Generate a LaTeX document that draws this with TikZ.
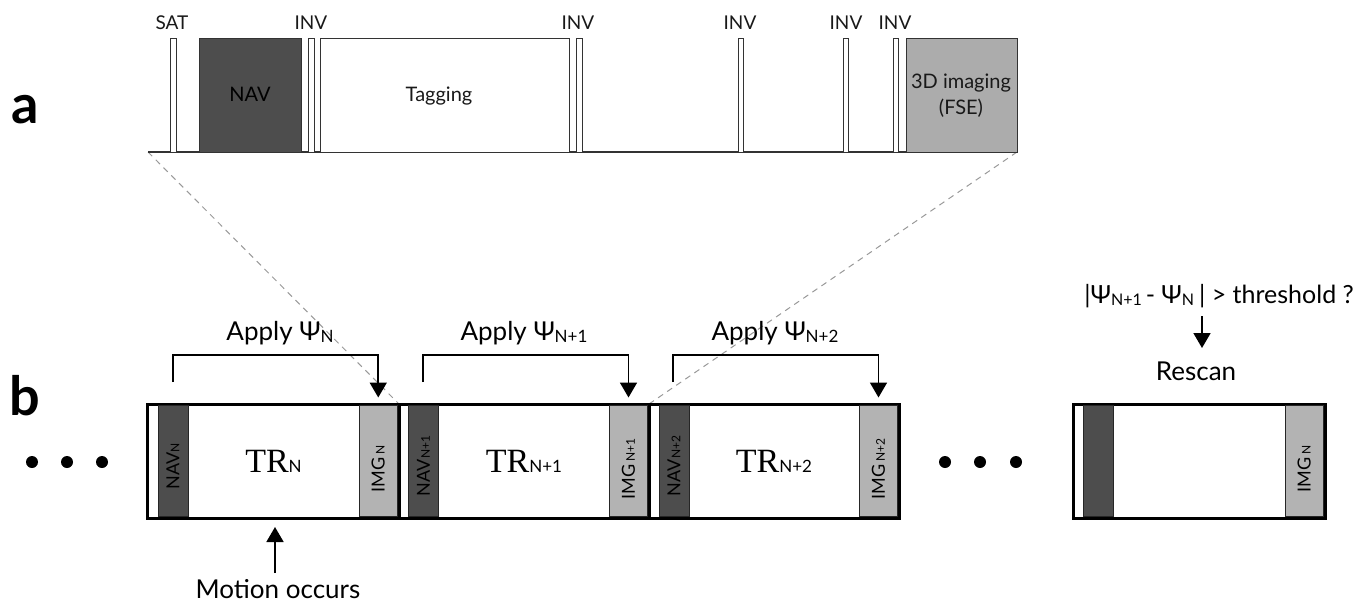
\documentclass[tikz,border=0pt]{standalone}
\usepackage{fontspec}
\setmainfont{Lato}
\newfontfamily\trfont{Liberation Serif}
\usetikzlibrary{arrows.meta,calc}
\definecolor{navc}{HTML}{4D4D4D}
\definecolor{imgc}{HTML}{B3B3B3}
\definecolor{fsec}{HTML}{ACACAC}
\definecolor{edge}{HTML}{333333}
\newcommand\fs[1]{\fontsize{#1}{#1}\selectfont}
\newcommand\Rect[7]{\node[#1, minimum width={(#5-#3)*1pt}, minimum height={(#6-#4)*1pt}] (#2) at ({(#3+#5)/2},{(#4+#6)/2}) {#7};}
\begin{document}
\begin{tikzpicture}[x=1pt,y=-1pt,
  pulse/.style={draw=edge, fill=white, line width=0.8pt, inner sep=0pt, outer sep=0pt},
  seg/.style={draw=edge, line width=1pt, inner sep=0pt, outer sep=0pt},
  trbox/.style={draw=black, fill=white, line width=3pt, inner sep=0pt, outer sep=0pt},
  navs/.style={draw=black!85, fill=navc, line width=0.8pt, inner sep=0pt, outer sep=0pt},
  imgs/.style={draw=black!85, fill=imgc, line width=0.8pt, inner sep=0pt, outer sep=0pt},
  lab/.style={inner sep=0pt, anchor=base},
  small/.style={lab, font=\fs{19}, text=black!90},
  big/.style={lab, font=\fs{26}, text=black},
  vlab/.style={inner sep=0pt, rotate=90, font=\fs{18}, text=black},
  dashline/.style={draw=black!40, line width=1pt, dash pattern=on 6pt off 5pt},
  arr/.style={line width=1.8pt, -{Triangle[width=17pt,length=15pt]}},
  dot/.style={circle, fill=black, inner sep=0pt, minimum size=12pt},
]
\useasboundingbox (0,0) rectangle (1360,603);

% ---------- panel labels ----------
\node[lab, font=\fs{54}\bfseries] (la) at (25,123) {a};
\node[lab, font=\fs{54}\bfseries] (lb) at (25,415) {b};

% ---------- part a ----------
\coordinate (aL) at (148,152);
\coordinate (aR) at (1017,152);
\draw[dashline] (aL) -- (399,404) coordinate (dEnd1);
\draw[dashline] (aR) -- (649,404) coordinate (dEnd2);
\draw[edge, line width=1.2pt] (aL) -- (aR);

\Rect{pulse}{sat}{170}{38}{176}{152}{}
\Rect{seg, fill=navc}{nav}{199}{38}{301}{152}{}
\Rect{pulse}{inv1}{308}{38}{314}{152}{}
\Rect{seg, fill=white}{tag}{320}{38}{569}{152}{}
\Rect{pulse}{inv2}{576}{38}{582}{152}{}
\Rect{pulse}{inv3}{738}{38}{743}{152}{}
\Rect{pulse}{inv4}{843}{38}{848}{152}{}
\Rect{pulse}{inv5}{893}{38}{898}{152}{}
\Rect{seg, fill=fsec}{fse}{906}{38}{1017}{152}{}

\node[small] (satl) at (172,29) {SAT};
\node[small] (inv1l) at (311,29) {INV};
\node[small] (inv2l) at (578,29) {INV};
\node[small] (inv3l) at (740,29) {INV};
\node[small] (inv4l) at (846,29) {INV};
\node[small] (inv5l) at (895,29) {INV};
\node[lab, font=\fs{20}, text=black] (navl) at (250,101) {NAV};
\node[lab, font=\fs{20}, text=black!90] (tagl) at (439,101) {Tagging};
\node[inner sep=0pt, align=center, font=\fontsize{20}{26}\selectfont, text=black!90] (fsel) at (961,96) {3D imaging\\(FSE)};

% ---------- part b ----------
\Rect{trbox}{b1}{147}{404}{399}{518}{}
\Rect{trbox}{b2}{399}{404}{649}{518}{}
\Rect{trbox}{b3}{649}{404}{899}{518}{}
\Rect{trbox}{b4}{1073}{404}{1325}{518}{}

\Rect{navs}{n1}{158}{405.5}{188}{516.5}{}
\Rect{imgs}{i1}{359}{405.5}{397.5}{516.5}{}
\Rect{navs}{n2}{408.5}{405.5}{438.5}{516.5}{}
\Rect{imgs}{i2}{609.5}{405.5}{647.5}{516.5}{}
\Rect{navs}{n3}{659}{405.5}{689}{516.5}{}
\Rect{imgs}{i3}{859.5}{405.5}{897.5}{516.5}{}
\Rect{navs}{n4}{1083}{405.5}{1113}{516.5}{}
\Rect{imgs}{i4}{1285}{405.5}{1323.5}{516.5}{}

\node[lab] (t1) at (273.5,472) {{\trfont\fs{34}TR}{\fs{17}N}};
\node[lab] (t2) at (524,472) {{\trfont\fs{34}TR}{\fs{17}N+1}};
\node[lab] (t3) at (774,472) {{\trfont\fs{34}TR}{\fs{17}N+2}};

\node[vlab] (nl1) at ([yshift=-5pt]n1.center) {NAV{\fs{12}N}};
\node[vlab] (nl2) at ([yshift=-5pt]n2.center) {NAV{\fs{12}N+1}};
\node[vlab] (nl3) at ([yshift=-5pt]n3.center) {NAV{\fs{12}N+2}};
\node[vlab] (il1) at ([yshift=-8pt]i1.center) {IMG\,{\fs{12}N}};
\node[vlab] (il2) at ([yshift=-8pt]i2.center) {IMG\,{\fs{12}N+1}};
\node[vlab] (il3) at ([yshift=-8pt]i3.center) {IMG\,{\fs{12}N+2}};
\node[vlab] (il4) at ([yshift=-8pt]i4.center) {IMG\,{\fs{12}N}};

% brackets
\coordinate (s1) at (173,382);
\coordinate (s2) at (423,382);
\coordinate (s3) at (673,382);
\draw[arr, shorten >=8pt] (s1) -- ++(0,-27) -| (i1.north);
\draw[arr, shorten >=8pt] (s2) -- ++(0,-27) -| (i2.north);
\draw[arr, shorten >=8pt] (s3) -- ++(0,-27) -| (i3.north);

\node[big] (ap1) at (280,340) {Apply Ψ{\fs{17}\raisebox{-2pt}{N}}};
\node[big] (ap2) at (524,340) {Apply Ψ{\fs{17}\raisebox{-2pt}{N+1}}};
\node[big] (ap3) at (775,340) {Apply Ψ{\fs{17}\raisebox{-2pt}{N+2}}};

% dots
\node[dot] (d1) at (32,462) {};
\node[dot] (d2) at (67,462) {};
\node[dot] (d3) at (102,462) {};
\node[dot] (d4) at (945,462) {};
\node[dot] (d5) at (980,462) {};
\node[dot] (d6) at (1016,462) {};

% motion
\node[big] (mot) at (278,598) {Motion occurs};
\coordinate (m0) at (275,573);
\draw[arr, shorten >=9pt] (m0) -- (m0 |- b1.south);

% rescan
\node[big, anchor=base east, font=\fs{25}] (thr) at (1354,303) {|Ψ{\fs{16}\raisebox{-2pt}{N+1}}\hspace{4pt}- Ψ{\fs{16}\raisebox{-2pt}{N}}\hspace{5pt}| > threshold ?};
\node[big] (resc) at (1196,380) {Rescan};
\coordinate (r0) at (1202,316);
\coordinate (r1) at (1202,348);
\draw[arr] (r0) -- (r1);
\end{tikzpicture}
\end{document}
